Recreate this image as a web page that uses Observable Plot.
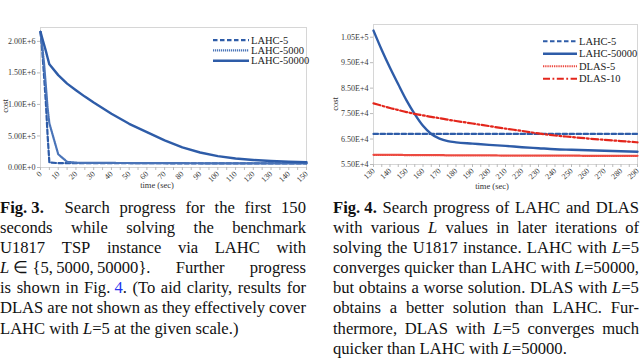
<!DOCTYPE html>
<html><head><meta charset="utf-8">
<script src="https://cdn.jsdelivr.net/npm/d3@7"></script>
<script src="https://cdn.jsdelivr.net/npm/@observablehq/plot@0.6"></script>
<style>
html,body{margin:0;padding:0;background:#fff;}
body{width:640px;height:358px;position:relative;overflow:hidden;font-family:"Liberation Serif","Times New Roman",serif;}
.abs{position:absolute;}
.cap{position:absolute;font-size:16.6px;line-height:20.1px;color:#111;}
.cap .ln{display:flex;justify-content:space-between;white-space:nowrap;height:20.1px;}
.cap .ln.last{display:block;}
.cap a{color:#2233ee;text-decoration:none;}
.axl{position:absolute;font-size:8.5px;color:#333;white-space:nowrap;transform:translate(-50%,-50%);}
.rot{transform:translate(-50%,-50%) rotate(-90deg);}
</style></head>
<body>
<div id="p3" class="abs" style="left:0;top:0"></div>
<div id="p4" class="abs" style="left:320px;top:0"></div>
<div class="axl rot" style="left:5px;top:106px">cost</div>
<div class="axl rot" style="left:335px;top:104px">cost</div>
<div class="axl" style="left:157px;top:185px">time (sec)</div>
<div class="axl" style="left:492px;top:185.5px">time (sec)</div>
<div id="cap3" class="cap" style="left:0;top:198px;width:306px"></div>
<div id="cap4" class="cap" style="left:333px;top:198px;width:306px"></div>
<script>
// ---------- Fig. 3 data ----------
const fig3Time = [0,1,2,3,4,5,10,15,20,25,30,40,50,60,70,80,90,100,110,120,130,140,150];
const fig3Lahc5 = [2150000,1850000,1450000,1040000,510000,80000,69000,68500,68000,68000,68000,67500,67500,67500,67000,67000,67000,67000,67000,67000,67000,67000,67000];
const fig3Lahc5000 = [2150000,1920000,1650000,1300000,950000,700000,210000,90000,76000,74000,73000,72000,71000,70000,69000,68000,67000,66000,65000,64500,64000,63500,63000];
const fig3Lahc50000 = [2150000,2050000,1950000,1850000,1740000,1636000,1465000,1330000,1225000,1124000,1030000,853000,693000,560000,430000,320000,238000,180000,142000,120000,104000,92000,84000];
const fig3Names = ["LAHC-5","LAHC-5000","LAHC-50000"];
const fig3XTicks = [0,10,20,30,40,50,60,70,80,90,100,110,120,130,140,150];
const fig3YTicks = [0,500000,1000000,1500000,2000000];

// ---------- Fig. 4 data ----------
const fig4Time = [130,135,140,145,150,155,160,165,170,175,180,190,200,210,220,230,240,250,260,270,280,290];
const fig4Lahc5 = [67000,67000,67000,67000,67000,67000,67000,67000,67000,67000,67000,67000,67000,67000,67000,67000,67000,67000,67000,67000,67000,67000];
const fig4Lahc50000 = [107600,100000,93000,86500,80200,74800,70200,67000,65200,64200,63700,63200,62700,62300,61800,61400,61000,60800,60600,60400,60200,60000];
const fig4Dlas5 = [58800,58800,58800,58800,58700,58700,58700,58700,58700,58600,58600,58600,58600,58500,58500,58500,58500,58500,58400,58400,58400,58400];
const fig4Dlas10 = [79000,78100,77200,76400,75600,74900,74300,73700,73200,72600,72100,71100,70100,69100,68200,67200,66400,65800,65200,64700,64200,63700];
const fig4Names = ["LAHC-5","LAHC-50000","DLAS-5","DLAS-10"];
const fig4XTicks = [130,140,150,160,170,180,190,200,210,220,230,240,250,260,270,280,290];
const fig4YTicks = [55000,65000,75000,85000,95000,105000];

const BLUE = "#2e5ca8", RED = "#e3261c";
const styles = {
  "LAHC-5": {stroke: BLUE, dash: "4.5,2.5", w: 2.2},
  "LAHC-5000": {stroke: "#4a74b8", dash: "1.2,0.8", w: 2.2},
  "LAHC-50000": {stroke: BLUE, dash: null, w: 2.4},
  "DLAS-5": {stroke: "#ec4a40", dash: "1.3,0.9", w: 2.2},
  "DLAS-10": {stroke: RED, dash: "7,2.5,1.8,2.5", w: 2.2}
};

function rows(time, names, series) {
  return names.map((n, k) => time.map((t, i) => ({t, v: series[k][i], s: n})));
}
const fmt = d => d.toExponential(2).toUpperCase();

function chart({data, names, xDomain, yDomain, xTicks, yTicks, minor, ml, mr, mt, mb, curve}) {
  const marks = [
    Plot.frame({stroke: "#d6d6d6", strokeWidth: 1}),
    Plot.axisY({ticks: yTicks, tickFormat: fmt, tickSize: 3, tickPadding: 2, stroke: "#bbb", label: null, fontSize: 8}),
    Plot.axisX({ticks: minor, text: null, tickSize: 3, stroke: "#bbb", label: null}),
    Plot.axisX({ticks: xTicks, tickFormat: d => String(d), tickSize: 0, tickRotate: -45, tickPadding: 5, label: null, fontSize: 8})
  ];
  names.forEach((n, k) => {
    const st = styles[n];
    marks.push(Plot.line(data[k], {x: "t", y: "v", stroke: st.stroke, strokeWidth: st.w,
      strokeDasharray: st.dash || undefined, curve, strokeLinejoin: "round"}));
  });
  return Plot.plot({
    width: 320, height: 192,
    marginLeft: ml, marginRight: mr, marginTop: mt, marginBottom: mb,
    x: {domain: xDomain}, y: {domain: yDomain},
    style: {fontFamily: "Liberation Serif, serif", fontSize: "8px", color: "#383838", background: "transparent", overflow: "visible"},
    marks
  });
}

document.getElementById("p3").append(chart({
  data: rows(fig3Time, fig3Names, [fig3Lahc5, fig3Lahc5000, fig3Lahc50000]),
  names: fig3Names, xDomain: [0, 150], yDomain: [0, 2220000],
  xTicks: fig3XTicks, yTicks: fig3YTicks, minor: d3.range(0, 151, 5),
  ml: 40, mr: 14, mt: 27, mb: 25, curve: "linear"
}));
document.getElementById("p4").append(chart({
  data: rows(fig4Time, fig4Names, [fig4Lahc5, fig4Lahc50000, fig4Dlas5, fig4Dlas10]),
  names: fig4Names, xDomain: [130, 290], yDomain: [55000, 110000],
  xTicks: fig4XTicks, yTicks: fig4YTicks, minor: d3.range(130, 291, 5),
  ml: 53, mr: 3, mt: 24, mb: 28, curve: "monotone-x"
}));

// ---------- legends ----------
function legend(names, left, top, rowH, lineW) {
  const ns = "http://www.w3.org/2000/svg";
  const svg = document.createElementNS(ns, "svg");
  svg.setAttribute("width", 110); svg.setAttribute("height", rowH * names.length + 6);
  svg.style.position = "absolute"; svg.style.left = left + "px"; svg.style.top = top + "px";
  names.forEach((n, i) => {
    const st = styles[n], y = 3 + rowH * i + rowH / 2;
    const l = document.createElementNS(ns, "line");
    l.setAttribute("x1", 0); l.setAttribute("x2", lineW); l.setAttribute("y1", y); l.setAttribute("y2", y);
    l.setAttribute("stroke", st.stroke); l.setAttribute("stroke-width", st.w);
    if (st.dash) l.setAttribute("stroke-dasharray", st.dash);
    svg.append(l);
    const t = document.createElementNS(ns, "text");
    t.setAttribute("x", lineW + 2); t.setAttribute("y", y); t.setAttribute("dy", "0.35em");
    t.setAttribute("font-size", "10.5"); t.setAttribute("font-family", "Liberation Serif, serif"); t.setAttribute("fill", "#222");
    t.textContent = n; svg.append(t);
  });
  document.body.append(svg);
}
legend(fig3Names, 213, 32.3, 10.3, 36);
legend(fig4Names, 542.7, 31.5, 12.5, 34);

// ---------- captions ----------
const cap3Lines = [
  "<b>Fig.\u00a03.</b> Search progress for the first 150",
  "seconds while solving the benchmark",
  "U1817 TSP instance via LAHC with",
  "<i>L</i>\u00a0\u2208\u00a0{5,\u20095000,\u200950000}. Further progress",
  "is shown in Fig.\u00a0<a>4</a>. (To aid clarity, results for",
  "DLAS are not shown as they effectively cover",
  "LAHC with <i>L</i>=5 at the given scale.)"
];
const cap4Lines = [
  "<b>Fig.\u00a04.</b> Search progress of LAHC and DLAS",
  "with various <i>L</i> values in later iterations of",
  "solving the U1817 instance. LAHC with <i>L</i>=5",
  "converges quicker than LAHC with <i>L</i>=50000,",
  "but obtains a worse solution. DLAS with <i>L</i>=5",
  "obtains a better solution than LAHC. Fur-",
  "thermore, DLAS with <i>L</i>=5 converges much",
  "quicker than LAHC with <i>L</i>=50000."
];
function caption(id, lines, labelGap) {
  const box = document.getElementById(id);
  lines.forEach((ln, i) => {
    const d = document.createElement("div");
    if (i === lines.length - 1) { d.className = "ln last"; d.innerHTML = ln; }
    else {
      d.className = "ln";
      d.innerHTML = ln.split(" ").map(w => "<span>" + w + "</span>").join("");
      if (i === 0 && labelGap) d.firstChild.style.marginRight = labelGap + "px";
    }
    box.append(d);
  });
}
caption("cap3", cap3Lines, 11);
caption("cap4", cap4Lines, 0);
</script>
</body></html>
